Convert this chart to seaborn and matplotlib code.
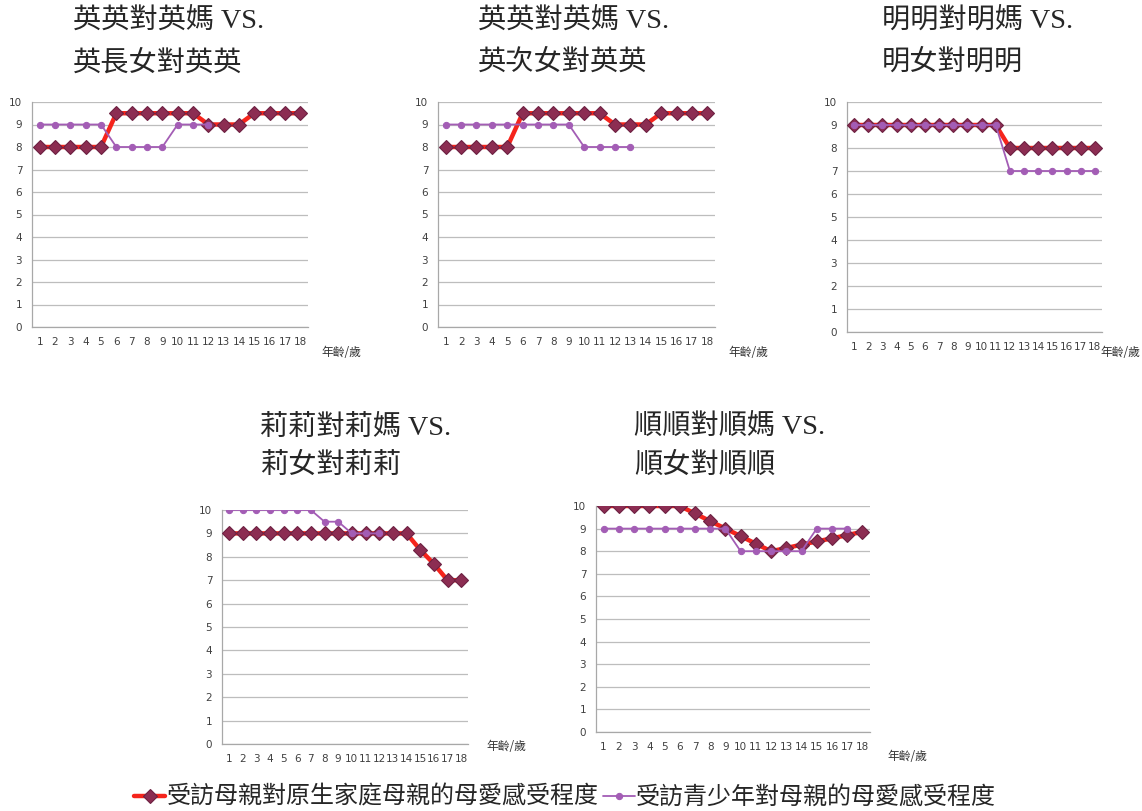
import numpy as np
import matplotlib
matplotlib.use("Agg")
import matplotlib.pyplot as plt
import seaborn as sns

sns.set_style("white")
plt.rcParams["font.family"] = ["Liberation Serif", "Noto Sans CJK TC", "DejaVu Sans"]

ages = list(range(1, 19))

titles = [
    ("英英對英媽 VS.", "英長女對英英"),
    ("英英對英媽 VS.", "英次女對英英"),
    ("明明對明媽 VS.", "明女對明明"),
    ("莉莉對莉媽 VS.", "莉女對莉莉"),
    ("順順對順媽 VS.", "順女對順順"),
]

# 受訪母親對原生家庭母親的母愛感受程度
mother_1 = [8, 8, 8, 8, 8, 9.5, 9.5, 9.5, 9.5, 9.5, 9.5, 9, 9, 9, 9.5, 9.5, 9.5, 9.5]
mother_2 = [8, 8, 8, 8, 8, 9.5, 9.5, 9.5, 9.5, 9.5, 9.5, 9, 9, 9, 9.5, 9.5, 9.5, 9.5]
mother_3 = [9, 9, 9, 9, 9, 9, 9, 9, 9, 9, 9, 8, 8, 8, 8, 8, 8, 8]
mother_4 = [9, 9, 9, 9, 9, 9, 9, 9, 9, 9, 9, 9, 9, 9, 8.3, 7.7, 7, 7]
mother_5 = [10, 10, 10, 10, 10, 10, 9.67, 9.33, 9, 8.67, 8.33, 8,
            8.14, 8.29, 8.43, 8.57, 8.71, 8.86]

# 受訪青少年對母親的母愛感受程度 (shorter lists: teen not yet that age)
teen_1 = [9, 9, 9, 9, 9, 8, 8, 8, 8, 9, 9, 9]
teen_2 = [9, 9, 9, 9, 9, 9, 9, 9, 9, 8, 8, 8, 8]
teen_3 = [9, 9, 9, 9, 9, 9, 9, 9, 9, 9, 9, 7, 7, 7, 7, 7, 7, 7]
teen_4 = [10, 10, 10, 10, 10, 10, 10, 9.5, 9.5, 9, 9, 9]
teen_5 = [9, 9, 9, 9, 9, 9, 9, 9, 9, 8, 8, 8, 8, 8, 9, 9, 9]

mothers = [mother_1, mother_2, mother_3, mother_4, mother_5]
teens = [teen_1, teen_2, teen_3, teen_4, teen_5]

label_mother = "受訪母親對原生家庭母親的母愛感受程度"
label_teen = "受訪青少年對母親的母愛感受程度"

W, H = 1142, 811
fig = plt.figure(figsize=(W / 100, H / 100), dpi=100)

# axes boxes in pixels: left, top, right, bottom
boxes = [
    (32, 102, 308, 327),
    (438, 102, 715, 327),
    (847, 102, 1102, 332),
    (222, 510, 468, 744),
    (596, 506, 870, 732),
]
title_pos = [(73, 22, 63), (478, 22, 63), (882, 22, 63), (260, 428, 466), (634, 428, 466)]
xlab_pos = [(321, 352), (728, 352), (1100, 352), (486, 746), (887, 757)]

red = "#f5241c"
diamond = "#8c2d52"
purple = "#a35db5"
grid_c = "#bdbdbd"

for i in range(5):
    l, t, r, b = boxes[i]
    ax = fig.add_axes([l / W, 1 - b / H, (r - l) / W, (b - t) / H])
    sns.lineplot(x=ages, y=mothers[i], ax=ax, color=red, linewidth=3.2,
                 marker="D", markersize=7, markerfacecolor=diamond,
                 markeredgecolor="#6d2142", markeredgewidth=0.8,
                 label=label_mother, zorder=3)
    sns.lineplot(x=ages[:len(teens[i])], y=teens[i], ax=ax, color=purple,
                 linewidth=1.3, marker="o", markersize=4.5,
                 markerfacecolor=purple, markeredgecolor=purple,
                 label=label_teen, zorder=4)
    ax.set_xlim(0.5, 18.5)
    ax.set_ylim(0, 10)
    ax.set_xticks(ages)
    ax.set_yticks(range(0, 11))
    ax.tick_params(length=0, labelsize=7.5, colors="#404040", pad=7)
    for lab in ax.get_xticklabels() + ax.get_yticklabels():
        lab.set_family("DejaVu Sans")
    ax.grid(axis="y", color=grid_c, linewidth=0.9)
    ax.set_axisbelow(True)
    sns.despine(ax=ax, top=True, right=True)
    ax.spines["left"].set_color("#a8a8a8")
    ax.spines["bottom"].set_color("#a8a8a8")
    ax.spines["left"].set_linewidth(0.9)
    ax.spines["bottom"].set_linewidth(0.9)
    ax.set_xlabel("")
    ax.set_ylabel("")
    ax.get_legend().remove()
    if i == 0:
        handles, labels = ax.get_legend_handles_labels()

    tx, ty1, ty2 = title_pos[i]
    fig.text(tx / W, 1 - ty1 / H, titles[i][0], fontsize=20.3, va="center", ha="left")
    fig.text(tx / W, 1 - ty2 / H, titles[i][1], fontsize=20.3, va="center", ha="left")
    xx, xy = xlab_pos[i]
    fig.text(xx / W, 1 - xy / H, "年齡/歲", fontsize=8.5, va="center", ha="left",
             color="#333333", family=["Noto Sans CJK TC"])

fig.legend(handles, labels, loc="center", bbox_to_anchor=(565 / W, 1 - 797 / H),
           ncol=2, frameon=False, handlelength=1.3,
           handletextpad=0.05, columnspacing=0.2,
           prop={"family": ["Noto Sans CJK TC"], "size": 17.3})

fig.savefig("out.png", dpi=100)
